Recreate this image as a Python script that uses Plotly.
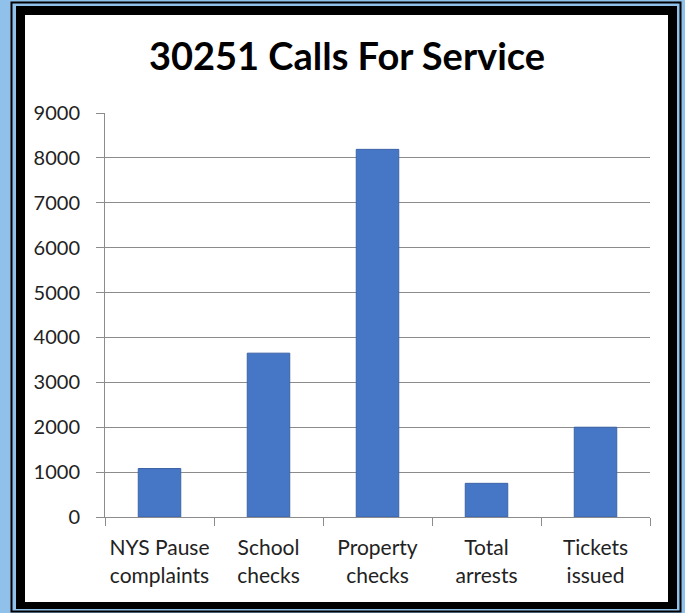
import plotly.graph_objects as go

categories = ["NYS Pause<br>complaints", "School<br>checks", "Property<br>checks", "Total<br>arrests", "Tickets<br>issued"]
values = [1080, 3650, 8190, 750, 2000]
title_text = "30251 Calls For Service"
y_ticks = [0, 1000, 2000, 3000, 4000, 5000, 6000, 7000, 8000, 9000]

W, H = 685, 613
L, R, T, B = 105, 35, 113, 96
PW, PH = W - L - R, H - T - B


def px(x):
    return (x - L) / PW


def py(y):
    return (H - B - y) / PH


fig = go.Figure(go.Bar(
    x=categories, y=values, width=0.39,
    marker=dict(color="#4677c6", line=dict(color="#3b63a6", width=1)),
))

shapes = [
    dict(type="rect", xref="paper", yref="paper", x0=px(11.5), x1=px(680.5), y0=py(2.5), y1=py(611.5),
         line=dict(color="black", width=2), fillcolor="rgba(0,0,0,0)", layer="below"),
    dict(type="rect", xref="paper", yref="paper", x0=px(16), x1=px(677), y0=py(6), y1=py(609),
         line=dict(width=0), fillcolor="black", layer="below"),
    dict(type="rect", xref="paper", yref="paper", x0=px(25), x1=px(668), y0=py(15), y1=py(602),
         line=dict(width=0), fillcolor="white", layer="below"),
]

fig.update_layout(
    width=W, height=H,
    margin=dict(l=L, r=R, t=T, b=B, autoexpand=False),
    paper_bgcolor="#8fc1ea",
    plot_bgcolor="rgba(0,0,0,0)",
    shapes=shapes,
    showlegend=False,
    font=dict(family="Lato, Carlito, sans-serif", size=20, color="#222222"),
    title=dict(text="<b>" + title_text + "</b>", xref="paper", xanchor="center",
               y=1 - 57 / H, yanchor="middle", yref="container",
               font=dict(family="Lato, sans-serif", size=38, color="black")),
)
fig.layout.title.x = (347 - L) / PW

fig.update_yaxes(range=[0, 9000], tickvals=y_ticks, showgrid=True, gridcolor="#8c8c8c", gridwidth=1,
                 showline=True, linecolor="#8c8c8c", linewidth=1, ticks="outside", ticklen=8,
                 tickcolor="#8c8c8c", zeroline=False, fixedrange=True, ticklabelstandoff=12,
                 tickfont=dict(size=20), automargin=False)
fig.update_xaxes(showline=True, linecolor="#8c8c8c", linewidth=1, ticks="outside", ticklen=8,
                 tickcolor="#8c8c8c", tickson="boundaries", showgrid=False, fixedrange=True,
                 ticklabelstandoff=12, tickfont=dict(size=21), tickangle=0, automargin=False)

fig.write_html("out.html", config={"displayModeBar": False},
               post_script="document.body.style.margin='0';document.body.style.overflow='hidden';")
